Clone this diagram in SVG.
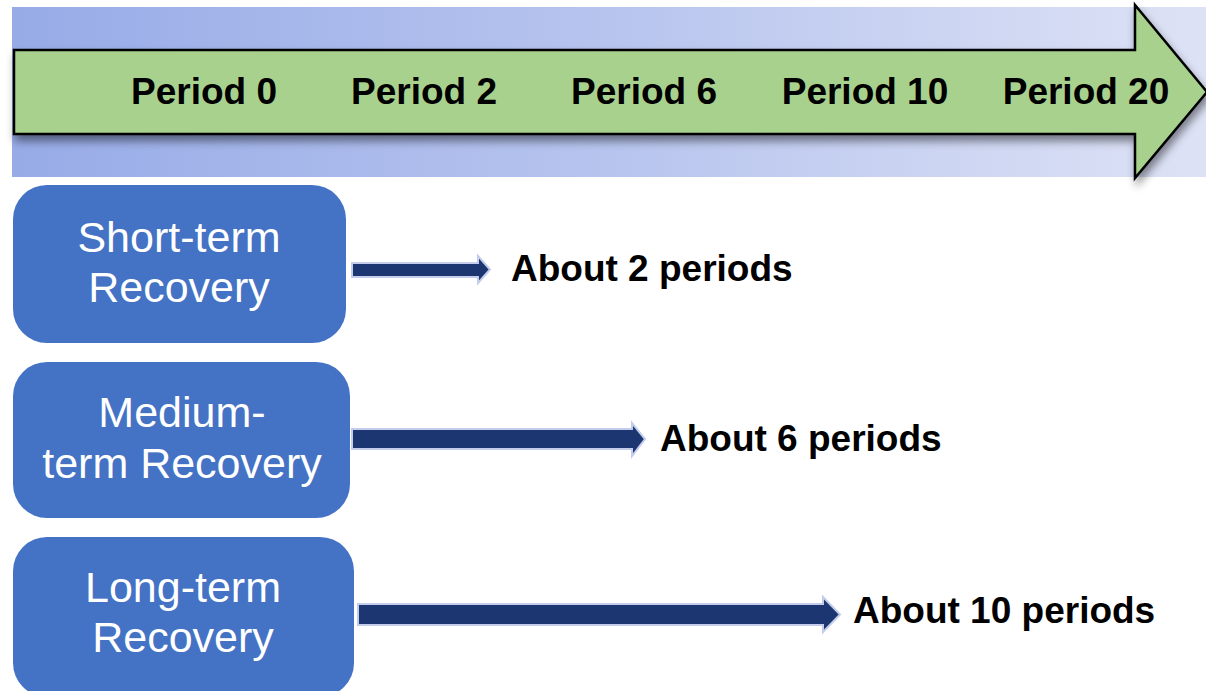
<svg xmlns="http://www.w3.org/2000/svg" width="1206" height="691" viewBox="0 0 1206 691">
<defs>
<linearGradient id="band" x1="0" y1="0" x2="1" y2="0">
<stop offset="0" stop-color="#97ABE7"/>
<stop offset="0.5" stop-color="#B7C4EE"/>
<stop offset="1" stop-color="#DDE2F5"/>
</linearGradient>
<filter id="sh" x="-5%" y="-20%" width="110%" height="150%">
<feDropShadow dx="2" dy="6" stdDeviation="4" flood-color="#000" flood-opacity="0.45"/>
</filter>
</defs>
<style>
.per{font-family:"Liberation Sans",Arial,sans-serif;font-weight:bold;font-size:37px;fill:#000;text-anchor:middle}
.lbl{font-family:"Liberation Sans",Arial,sans-serif;font-weight:bold;font-size:37px;fill:#000}
.box{fill:#4472C4}
.bt{font-family:"Liberation Sans",Arial,sans-serif;font-size:43px;fill:#fff;text-anchor:middle}
.conn{fill:#1B3670;stroke:#C3CCEA;stroke-width:2}
</style>
<rect x="12" y="7" width="1194" height="170" fill="url(#band)"/>
<g id="timeline">
<path d="M14,50 L1135,50 L1135,5 L1207,92 L1135,178 L1135,134 L14,134 Z" fill="#A9D18E" stroke="#000" stroke-width="2.5" stroke-linejoin="miter" filter="url(#sh)"/>
<text class="per" x="204" y="104">Period 0</text>
<text class="per" x="424" y="104">Period 2</text>
<text class="per" x="644" y="104">Period 6</text>
<text class="per" x="865" y="104">Period 10</text>
<text class="per" x="1086" y="104">Period 20</text>
</g>
<g id="short">
<rect class="box" x="13" y="185" width="333" height="158" rx="34"/>
<text class="bt" x="179" y="252">Short-term<tspan x="179" dy="50">Recovery</tspan></text>
</g>
<g id="medium">
<rect class="box" x="13" y="362" width="337" height="156" rx="34"/>
<text class="bt" x="182" y="427">Medium-<tspan x="182" dy="51">term Recovery</tspan></text>
</g>
<g id="long">
<rect class="box" x="13" y="537" width="341" height="160" rx="34"/>
<text class="bt" x="183" y="602">Long-term<tspan x="183" dy="50">Recovery</tspan></text>
</g>
<g id="connectors">
<path class="conn" d="M352,263 L478,263 L478,256 L490,269.5 L478,283 L478,277 L352,277 Z"/>
<path class="conn" d="M352,429 L632,429 L632,423 L645,439 L632,456 L632,449 L352,449 Z"/>
<path class="conn" d="M358,604 L823,604 L823,597 L840,614.5 L823,632 L823,625 L358,625 Z"/>
</g>
<g id="labels">
<text class="lbl" x="511" y="281">About 2 periods</text>
<text class="lbl" x="660" y="451">About 6 periods</text>
<text class="lbl" x="853" y="623">About 10 periods</text>
</g>
</svg>
